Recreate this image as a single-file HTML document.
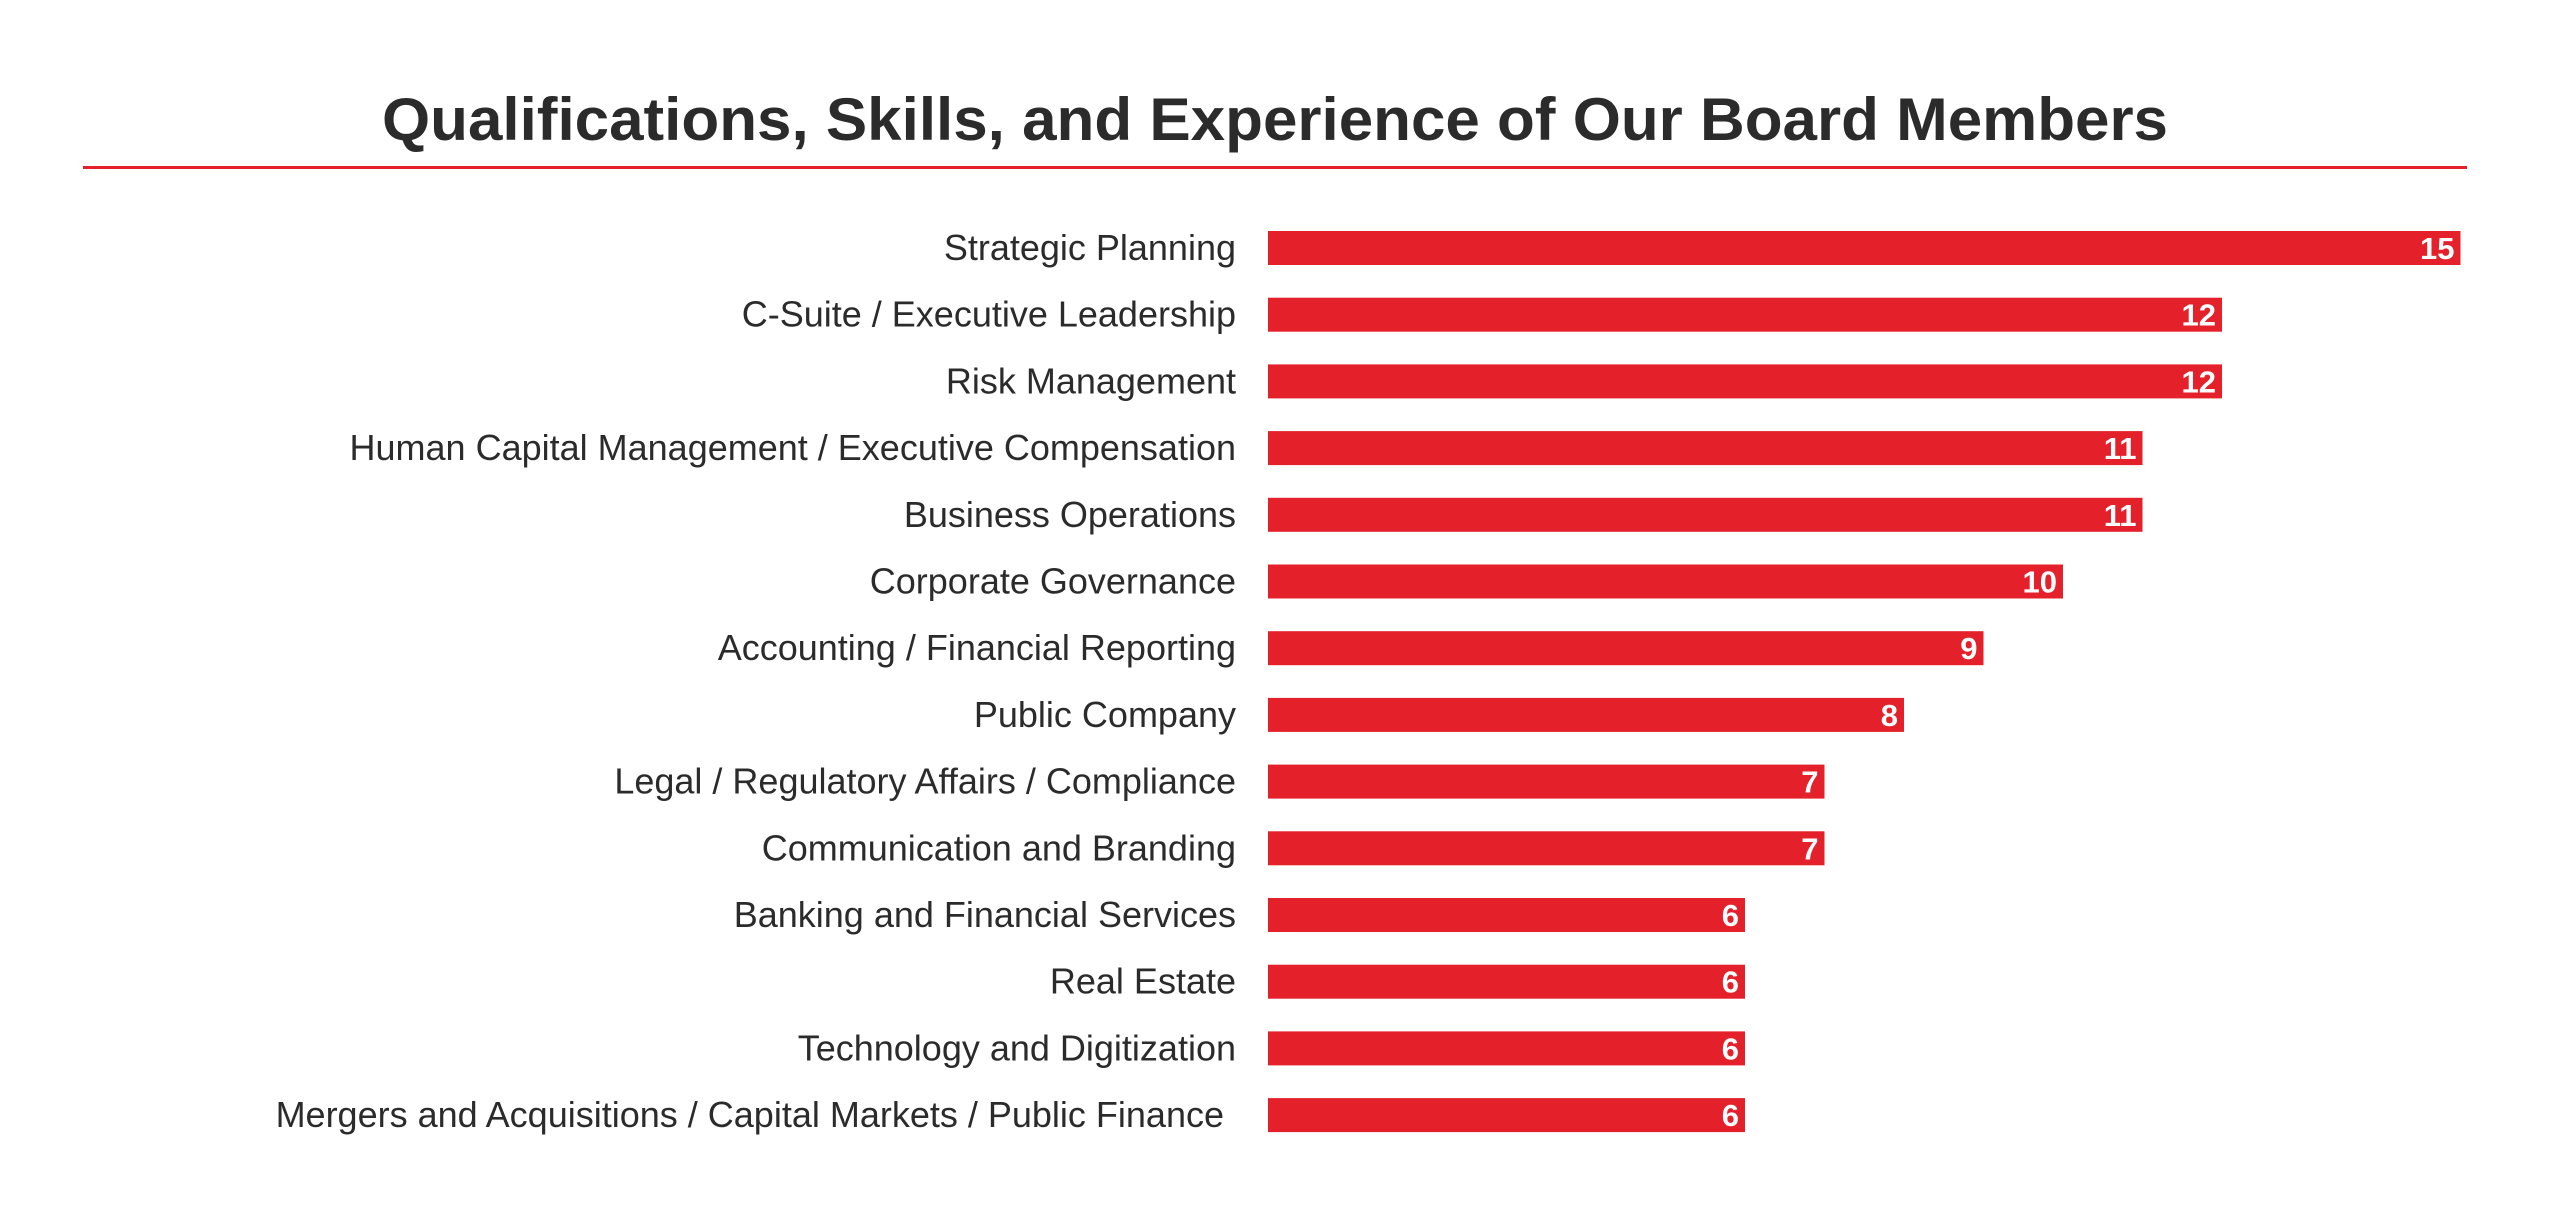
<!DOCTYPE html>
<html><head><meta charset="utf-8"><style>
html,body{margin:0;padding:0;background:#fff;}
svg{display:block;font-family:"Liberation Sans",sans-serif;}
</style></head><body>
<svg id="chart" width="2550" height="1221" viewBox="0 0 2550 1221" xmlns="http://www.w3.org/2000/svg">
<rect width="2550" height="1221" fill="#fff"/>
<text x="1275" y="140" text-anchor="middle" font-size="60" font-weight="bold" fill="#2b2b2b" textLength="1786" lengthAdjust="spacingAndGlyphs">Qualifications, Skills, and Experience of Our Board Members</text>
<rect x="83" y="166" width="2384" height="3" fill="#e4202a"/>
<g id="bars"></g>
</svg>
<script>
const categories = ["Strategic Planning","C-Suite / Executive Leadership","Risk Management","Human Capital Management / Executive Compensation","Business Operations","Corporate Governance","Accounting / Financial Reporting","Public Company","Legal / Regulatory Affairs / Compliance","Communication and Branding","Banking and Financial Services","Real Estate","Technology and Digitization","Mergers and Acquisitions / Capital Markets / Public Finance"];
const values = [15,12,12,11,11,10,9,8,7,7,6,6,6,6];

const x0 = 1268, unit = 79.5, top0 = 231, step = 66.7, barH = 34;
function xScale(v){ return x0 + v*unit; }
function yScale(i){ return top0 + i*step; }
const NS = "http://www.w3.org/2000/svg";
const g = document.getElementById("bars");
categories.forEach((c,i)=>{
  const y = yScale(i);
  const lab = document.createElementNS(NS,"text");
  
  
  lab.setAttribute("x", i===categories.length-1 ? 1224 : 1236);
  lab.setAttribute("y", y+barH/2+12);
  lab.setAttribute("text-anchor","end");
  lab.setAttribute("font-size","36");
  lab.setAttribute("fill","#2b2b2b");
  lab.textContent = c;
  g.appendChild(lab);
  const r = document.createElementNS(NS,"rect");
  
  
  r.setAttribute("x", x0);
  r.setAttribute("y", y);
  r.setAttribute("width", xScale(values[i])-x0);
  r.setAttribute("height", barH);
  r.setAttribute("fill","#e4202a");
  g.appendChild(r);
  const v = document.createElementNS(NS,"text");
  
  
  v.setAttribute("x", xScale(values[i])-6);
  v.setAttribute("y", y+barH/2+11);
  v.setAttribute("text-anchor","end");
  v.setAttribute("font-size","31");
  v.setAttribute("font-weight","bold");
  v.setAttribute("fill","#fff");
  v.textContent = values[i];
  g.appendChild(v);
});
</script>
</body></html>
